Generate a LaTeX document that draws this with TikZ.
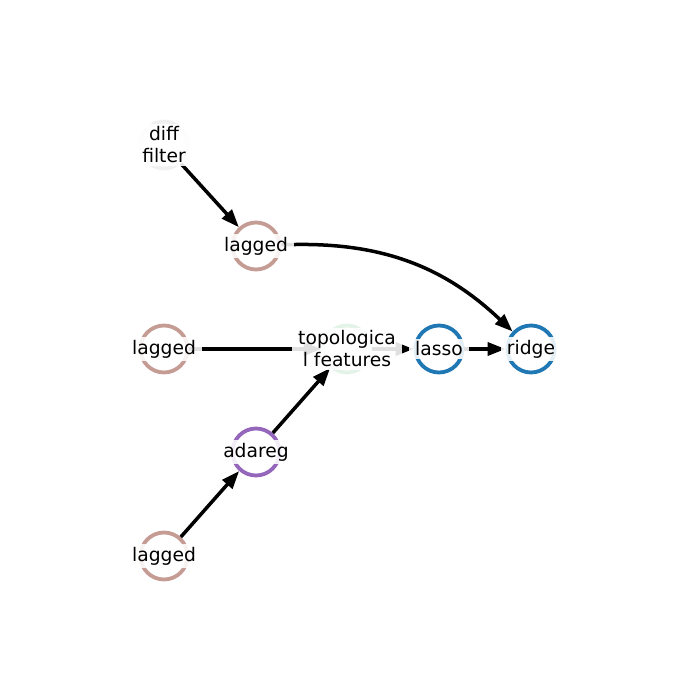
\documentclass[tikz,border=0pt]{standalone}
\usepackage{fontspec}
\setmainfont{DejaVu Sans}
\usetikzlibrary{arrows.meta}
\definecolor{cLag}{HTML}{C49C94}
\definecolor{cAda}{HTML}{9467BD}
\definecolor{cBlue}{HTML}{1F77B4}
\definecolor{cTopo}{HTML}{E4F3E8}
\definecolor{cDiff}{HTML}{F0F0F0}
\begin{document}
\begin{tikzpicture}[x=1pt,y=-1pt,
  vert/.style={circle, minimum size=47pt, inner sep=0pt, line width=3.8pt, draw=#1, fill=white},
  lab/.style={fill=white, fill opacity=0.88, text opacity=1, inner xsep=6pt, inner ysep=3pt,
              align=center, font=\fontsize{18.7}{22}\selectfont},
  edge/.style={line width=3.5pt, -{Triangle[length=18pt,width=13pt]}}
]
\useasboundingbox (0,0) rectangle (700,700);

% vertices
\node[vert=cDiff] (diff) at (164,145) {};
\node[vert=cLag]  (lag1) at (256,246) {};
\node[vert=cLag]  (lag2) at (164,349) {};
\node[vert=cTopo] (topo) at (347,349) {};
\node[vert=cBlue] (lasso) at (439,349) {};
\node[vert=cBlue] (ridge) at (531,349) {};
\node[vert=cAda]  (ada) at (256,452) {};
\node[vert=cLag]  (lag3) at (164,556) {};

% edges
\draw[edge] (diff) -- (lag1);
\draw[edge] (lag1) to[bend left=23] (ridge);
\draw[edge] (lag2) -- (topo);
\draw[edge] (topo) -- (lasso);
\draw[edge] (lasso) -- (ridge);
\draw[edge] (lag3) -- (ada);
\draw[edge] (ada) -- (topo);

% labels
\node[lab] (tdiff) at (diff) {diff\\filter};
\node[lab] (tlag1) at (lag1) {lagged};
\node[lab] (tlag2) at (lag2) {lagged};
\node[lab] (ttopo) at (topo) {topologica\\l features};
\node[lab] (tlasso) at (lasso) {lasso};
\node[lab] (tridge) at (ridge) {ridge};
\node[lab] (tada) at (ada) {adareg};
\node[lab] (tlag3) at (lag3) {lagged};
\end{tikzpicture}
\end{document}
